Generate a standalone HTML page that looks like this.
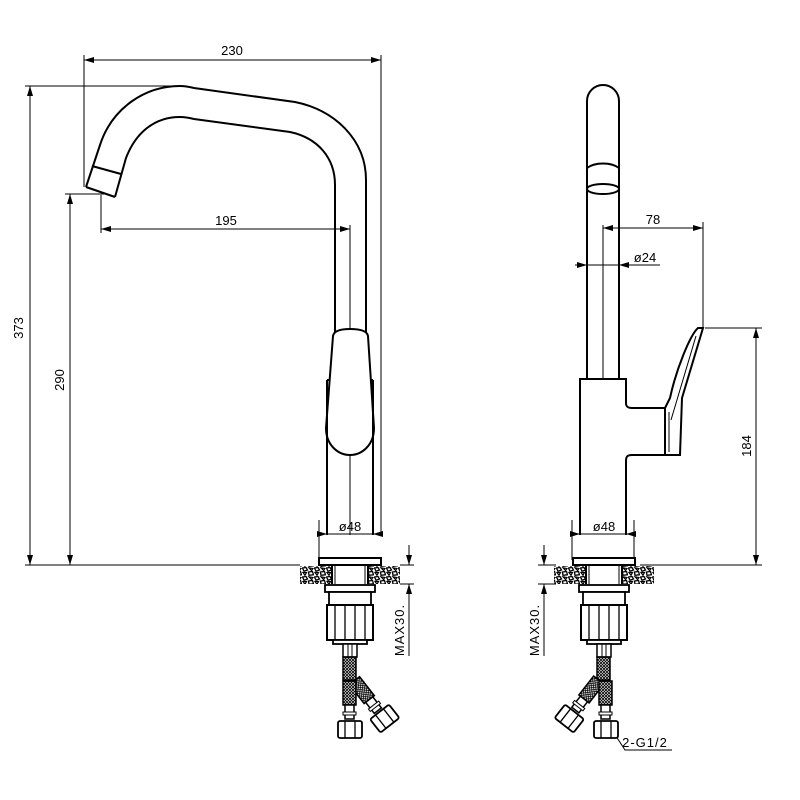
<!DOCTYPE html>
<html><head><style>html,body{margin:0;padding:0;background:#fff}svg{display:block}</style></head>
<body>
<svg width="800" height="800" viewBox="0 0 800 800" xmlns="http://www.w3.org/2000/svg" font-family="Liberation Sans, sans-serif">
<defs>
<marker id="a" viewBox="0 0 10 6" refX="10" refY="3" markerWidth="10" markerHeight="6" orient="auto-start-reverse" markerUnits="userSpaceOnUse"><path d="M0,0 L10,3 L0,6 z" fill="#000"/></marker>
<pattern id="st" width="12" height="9" patternUnits="userSpaceOnUse">
<rect width="12" height="9" fill="#fff"/>
<path d="M0.5,1 L4,0.5 L5.5,3 L2,4.2 Z" fill="none" stroke="#000" stroke-width="1.3"/>
<path d="M6.5,5 L10.5,4.5 L11.5,7.8 L7,8.3 Z" fill="none" stroke="#000" stroke-width="1.3"/>
<path d="M7,0.8 L11,1.5 L9.5,3.5 Z" fill="none" stroke="#000" stroke-width="1.2"/>
<path d="M1,5.5 L4.5,5.5 L3,8.3 Z" fill="none" stroke="#000" stroke-width="1.2"/>
</pattern>
<pattern id="br" width="3" height="3" patternUnits="userSpaceOnUse">
<rect width="3" height="3" fill="#fff"/><path d="M0,0 L3,3 M3,0 L0,3" stroke="#000" stroke-width="0.8"/>
</pattern>
<g id="base">
<rect x="-31" y="558" width="62" height="7" fill="#fff" stroke="#000" stroke-width="2"/>
<rect x="-50" y="566" width="32" height="18" fill="url(#st)"/>
<rect x="18" y="566" width="32" height="18" fill="url(#st)"/>
<line x1="-18" y1="566" x2="-18" y2="584" stroke="#000" stroke-width="2"/>
<line x1="18" y1="566" x2="18" y2="584" stroke="#000" stroke-width="2"/>
<line x1="-15" y1="566" x2="-15" y2="584" stroke="#000" stroke-width="1"/>
<line x1="15" y1="566" x2="15" y2="584" stroke="#000" stroke-width="1"/>
<rect x="-25" y="585" width="50" height="7" fill="#fff" stroke="#000" stroke-width="1.8"/>
<rect x="-21" y="592" width="42" height="13" fill="#fff" stroke="#000" stroke-width="1.8"/>
<rect x="-23" y="605" width="46" height="35" fill="#fff" stroke="#000" stroke-width="2"/>
<path d="M-15,605V640 M-5,605V640 M5,605V640 M15,605V640" stroke="#000" stroke-width="1.3"/>
<rect x="-17" y="640" width="34" height="4" fill="#fff" stroke="#000" stroke-width="1.8"/>
<rect x="-7" y="644" width="14" height="13" fill="#fff" stroke="#000" stroke-width="1.5"/>
<line x1="-2" y1="644" x2="-2" y2="657" stroke="#000"/><line x1="2" y1="644" x2="2" y2="657" stroke="#000"/>
<rect x="-7" y="657" width="13" height="23" fill="url(#br)" stroke="#000" stroke-width="1.5"/>
</g>
<g id="hoseS">
<rect x="-7" y="681" width="13" height="24" fill="url(#br)" stroke="#000" stroke-width="1.5"/>
<rect x="-5" y="705" width="9" height="14" fill="#fff" stroke="#000" stroke-width="1.5"/>
<rect x="-7" y="712" width="13" height="3" fill="#fff" stroke="#000" stroke-width="1"/>
<rect x="-12" y="721" width="24" height="17" rx="2" fill="#fff" stroke="#000" stroke-width="1.8"/>
<path d="M-5,721V738 M5,721V738" stroke="#000" stroke-width="1.3"/>
</g>
</defs>

<g fill="none" stroke="#000">
<path d="M86,187 L100,145 C112,108 145,86 180,86 C185,86 190,87 194,88 L295,102 C335,110 366,140 366,180 L366,335" stroke-width="2"/>
<path d="M115,197 L126,158 C136,132 155,117 180,117 C185,117 190,118 194,119 L290,132 C318,138 335,158 335,185 L335,335" stroke-width="2"/>
<path d="M86,187 L115,197 M92,166 L121,174" stroke-width="2"/>
<line x1="350" y1="225" x2="350" y2="535" stroke-width="1"/>
<path d="M333,336 C334,330 343,329 350,329 C357,329 367,330 368,336 L374,428 C374,445 362,455 350,455 C338,455 326,445 326,428 Z" fill="#fff" stroke-width="2"/>
<path d="M327,380 L327,535 M373,380 L373,535 M327,380 L329,380 M371,380 L373,380" stroke-width="2"/>
<g stroke-width="1">
<line x1="84" y1="55" x2="84" y2="187"/>
<line x1="381" y1="55" x2="381" y2="535"/>
<line x1="84" y1="60" x2="381" y2="60" marker-start="url(#a)" marker-end="url(#a)"/>
<line x1="25" y1="86" x2="175" y2="86"/>
<line x1="25" y1="565" x2="300" y2="565"/>
<line x1="30" y1="86" x2="30" y2="565" marker-start="url(#a)" marker-end="url(#a)"/>
<line x1="65" y1="194" x2="104" y2="194"/>
<line x1="70" y1="194" x2="70" y2="565" marker-start="url(#a)" marker-end="url(#a)"/>
<line x1="101" y1="195" x2="101" y2="233"/>
<line x1="101" y1="229" x2="350" y2="229" marker-start="url(#a)" marker-end="url(#a)"/>
<line x1="319" y1="520" x2="319" y2="560"/>
<line x1="319" y1="534" x2="327" y2="534" marker-end="url(#a)"/>
<line x1="327" y1="534" x2="373" y2="534"/>
<line x1="381" y1="534" x2="373" y2="534" marker-end="url(#a)"/>
<line x1="400" y1="565" x2="414" y2="565"/>
<line x1="400" y1="584" x2="414" y2="584"/>
<line x1="409" y1="545" x2="409" y2="565" marker-end="url(#a)"/>
<line x1="409" y1="604" x2="409" y2="584" marker-end="url(#a)"/>
<line x1="409" y1="584" x2="409" y2="656"/>
</g>

<path d="M587,380 L587,101 A16,16 0 0 1 619,101 L619,380" stroke-width="2"/>
<path d="M587,168 C595,162 611,162 619,168" stroke-width="2"/>
<ellipse cx="603" cy="189" rx="16" ry="5" stroke-width="2"/>
<path d="M619,379 L580,379 L580,535 M626,535 L626,461 C626,457 627,455 632,455 L666,455 M666,408 L632,408 C627,408 626,406 626,403 L626,379 L617,379" stroke-width="2"/>
<path d="M665,408 L665,455 L680,455 L682,398 L703,328 L698,328 C690,335 676,370 670,398 Z" fill="#fff" stroke-width="2"/>
<path d="M669,412 L669,452 M671,420 L696,336" stroke-width="1"/>
<line x1="603" y1="225" x2="603" y2="379" stroke-width="1"/>
<g stroke-width="1">
<line x1="703" y1="222" x2="703" y2="328"/>
<line x1="603" y1="228" x2="703" y2="228" marker-start="url(#a)" marker-end="url(#a)"/>
<line x1="575" y1="265" x2="587" y2="265" marker-end="url(#a)"/>
<line x1="587" y1="265" x2="619" y2="265"/>
<line x1="629" y1="265" x2="619" y2="265" marker-end="url(#a)"/>
<line x1="629" y1="265" x2="660" y2="265"/>
<line x1="705" y1="328" x2="762" y2="328"/>
<line x1="640" y1="565" x2="762" y2="565"/>
<line x1="756" y1="328" x2="756" y2="565" marker-start="url(#a)" marker-end="url(#a)"/>
<line x1="572" y1="520" x2="572" y2="560"/>
<line x1="634" y1="520" x2="634" y2="560"/>
<line x1="572" y1="534" x2="580" y2="534" marker-end="url(#a)"/>
<line x1="580" y1="534" x2="626" y2="534"/>
<line x1="634" y1="534" x2="626" y2="534" marker-end="url(#a)"/>
<line x1="538" y1="565" x2="556" y2="565"/>
<line x1="538" y1="584" x2="556" y2="584"/>
<line x1="544" y1="545" x2="544" y2="565" marker-end="url(#a)"/>
<line x1="544" y1="604" x2="544" y2="584" marker-end="url(#a)"/>
<line x1="544" y1="584" x2="544" y2="656"/>
<path d="M610,727 L625,750 L672,750"/>
</g>
</g>

<use href="#base" transform="translate(350,0)"/>
<use href="#base" transform="translate(604,0)"/>
<use href="#hoseS" transform="translate(353,678) rotate(-38) translate(0,-678)"/>
<use href="#hoseS" transform="translate(350,0)"/>
<use href="#hoseS" transform="translate(601,678) rotate(38) translate(0,-678)"/>
<use href="#hoseS" transform="translate(606,0)"/>

<g font-size="13" fill="#000">
<text x="232" y="55" text-anchor="middle">230</text>
<text x="226" y="225" text-anchor="middle">195</text>
<text transform="translate(23,328) rotate(-90)" text-anchor="middle">373</text>
<text transform="translate(64,380) rotate(-90)" text-anchor="middle">290</text>
<text x="350" y="531" text-anchor="middle">ø48</text>
<text x="604" y="531" text-anchor="middle">ø48</text>
<text transform="translate(404,630) rotate(-90)" text-anchor="middle" letter-spacing="1">MAX30.</text>
<text transform="translate(539,630) rotate(-90)" text-anchor="middle" letter-spacing="1">MAX30.</text>
<text x="653" y="224" text-anchor="middle">78</text>
<text x="645" y="262" text-anchor="middle">ø24</text>
<text transform="translate(751,446) rotate(-90)" text-anchor="middle">184</text>
<text x="645" y="747" text-anchor="middle" letter-spacing="1">2-G1/2</text>
</g>
</svg>
</body></html>
